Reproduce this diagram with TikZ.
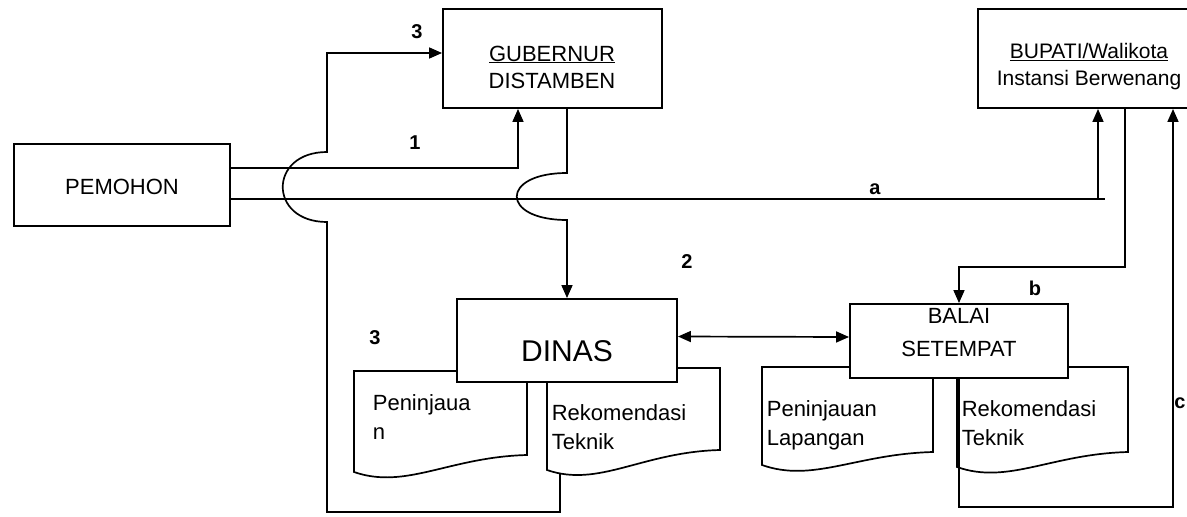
\documentclass[tikz,border=0pt]{standalone}
\usepackage{fontspec}
\setmainfont{Liberation Sans}
\usetikzlibrary{arrows.meta,backgrounds,calc}
\begin{document}
\begin{tikzpicture}[x=1pt,y=-1pt,line width=1.7pt,
  box/.style={draw,line width=1.9pt,fill=white,inner sep=0pt},
  txt/.style={font=\fontsize{22}{27}\selectfont,align=center,inner sep=0pt},
  arr/.style={-{Triangle[length=13pt,width=11pt]}},
  dbl/.style={{Triangle[length=13pt,width=11pt]}-{Triangle[length=13pt,width=11pt]}},
  lbl/.style={font=\fontsize{20}{24}\selectfont\bfseries,inner sep=0pt},
  doctxt/.style={font=\fontsize{22}{29}\selectfont,align=left,inner sep=0pt,anchor=west},
  docshape/.style={draw,line width=1.7pt,fill=white}]

\useasboundingbox (0,0) rectangle (1187,517);

% boxes
\node[box,minimum width=216pt,minimum height=82pt] (pem) at (122,185) {};
\node[box,minimum width=219pt,minimum height=99pt] (gub) at (552.5,58.5) {};
\node[box,minimum width=224pt,minimum height=99pt] (bup) at (1090,58.5) {};
\node[box,minimum width=220pt,minimum height=83pt] (dinas) at (567,340.5) {};
\node[box,minimum width=218pt,minimum height=74pt] (balai) at (959,341) {};

% box texts
\node[txt] (pemt) at (122,187) {PEMOHON};
\node[txt] (gubt) at (552,67) {\underline{GUBERNUR}\\DISTAMBEN};
\node[txt,font=\fontsize{21}{27}\selectfont] (bupt) at (1089,67) {\underline{BUPATI/Walikota}\\Instansi Berwenang};
\node[txt,font=\fontsize{30}{34}\selectfont] (dinast) at (567,351) {DINAS};
\node[txt,font=\fontsize{22}{33}\selectfont] (balait) at (959,333) {BALAI\\SETEMPAT};

% documents (behind the boxes)
\begin{scope}[on background layer]
  \draw[docshape] (354,371) -- (527,371) -- (527,455)
     .. controls (449,457) and (406,490) .. (354,472) -- cycle;
  \draw[docshape] (547,368) -- (720,368) -- (720,450)
     .. controls (642,452) and (599,488) .. (547,470) -- cycle;
  \draw[docshape] (762,367) -- (933,367) -- (933,452)
     .. controls (856,454) and (813,483) .. (762,465) -- cycle;
  \draw[docshape] (957,367) -- (1128,367) -- (1128,452)
     .. controls (1051,454) and (1008,485) .. (957,467) -- cycle;
\end{scope}
\node[doctxt] (d1t) at (372,417) {Peninjaua\\n};
\node[doctxt] (d2t) at (551,427) {Rekomendasi\\Teknik};
\node[doctxt] (d3t) at (766,425) {Peninjauan\\Lapangan};
\node[doctxt] (d4t) at (961,423) {Rekomendasi\\Teknik};

% helper coordinates
\coordinate (j1) at (518,168);
\coordinate (ja) at (1098,199);
\coordinate (jae) at (1105,199);
\coordinate (d2b) at (560,473);
\coordinate (jl) at (327,512);
\coordinate (j3) at (327,53);
\coordinate (jb) at (1125,267);
\coordinate (jc) at (1173,507);

% connector 1
\draw[arr] (pem.east |- j1) -- (j1) -- (j1 |- gub.south);
% connector a
\draw (pem.east |- ja) -- (jae);
\draw[arr] (ja) -- (ja |- bup.south);
% gubernur -> dinas with jump
\draw[arr] (dinas.north |- gub.south) -- (567,173)
   .. controls (500,173) and (500,220) .. (567,220) -- (dinas.north);
% connector 3 (return loop)
\draw[arr] (d2b) -- (d2b |- jl) -- (jl) -- (327,222)
   .. controls (268,222) and (268,152) .. (327,152) -- (j3) -- (gub.west |- j3);
% dinas <-> balai
\draw[dbl] ([yshift=4pt]dinas.east) -- ([yshift=4pt]balai.west);
% connector b
\draw[arr] (jb |- bup.south) -- (jb) -- (balai.north |- jb) -- (balai.north);
% connector c
\draw[arr] (balai.south) -- (balai.south |- jc) -- (jc) -- (jc |- bup.south);

% labels
\node[lbl] (l3a) at (417,32) {3};
\node[lbl] (l1) at (415,143) {1};
\node[lbl] (la) at (875,189) {a};
\node[lbl] (l2) at (687,262) {2};
\node[lbl] (lb) at (1035,288) {b};
\node[lbl] (l3b) at (375,338) {3};
\node[lbl] (lc) at (1180,403) {c};
\end{tikzpicture}
\end{document}
